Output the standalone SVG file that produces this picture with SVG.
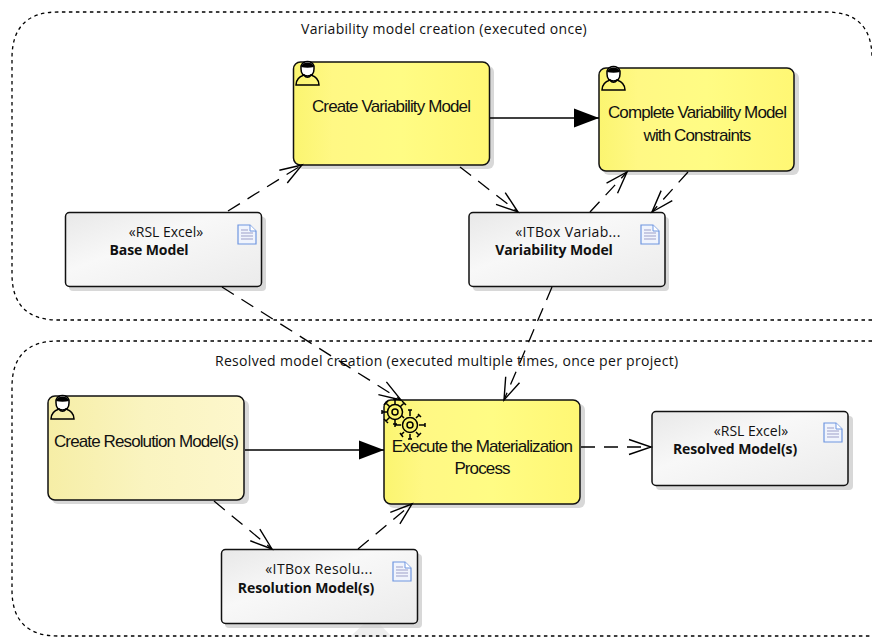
<svg xmlns="http://www.w3.org/2000/svg" width="872" height="637" viewBox="0 0 872 637">
<defs>
<linearGradient id="y" x1="0" x2="1" y1="0" y2="0"><stop offset="0" stop-color="#fbf570"/><stop offset="0.2" stop-color="#fff884"/><stop offset="0.55" stop-color="#fffc84"/><stop offset="1" stop-color="#fff774"/></linearGradient>
<linearGradient id="p" x1="0" x2="1" y1="0" y2="0"><stop offset="0" stop-color="#f6eea6"/><stop offset="0.5" stop-color="#faf4c0"/><stop offset="1" stop-color="#fdf7cc"/></linearGradient>
<linearGradient id="g" x1="0" x2="1" y1="0" y2="1"><stop offset="0" stop-color="#e8e8e8"/><stop offset="0.4" stop-color="#f8f8f8"/><stop offset="1" stop-color="#ebebeb"/></linearGradient>
<marker id="solid" markerUnits="userSpaceOnUse" markerWidth="28" markerHeight="24" refX="25" refY="11" orient="auto"><path d="M0 1.500 L25 11 L0 20.500 Z" fill="#000"/></marker>
<marker id="open" markerUnits="userSpaceOnUse" markerWidth="26" markerHeight="20" refX="23" refY="9" orient="auto"><path d="M1 1.500 L23 9 L1 16.500" fill="none" stroke="#000" stroke-width="1.400"/></marker>
<g id="actor"><path d="M-4 -9 A7 7 0 0 1 9 -9 L9 -6 C9 -1 6 1 2.500 1 C-1 1 -4 -1 -4 -6 Z" fill="#fff" stroke="#000" stroke-width="1.500"/><path d="M-4 -8 A7 7 0 0 1 9 -8 C5 -7 0 -7 -4 -8 Z" fill="#000"/><path d="M-1 0 C-7 2 -9 5 -9 10 L14 10 C14 5 12 2 6 0 C4 3 1 3 -1 0 Z" fill="none" stroke="#000" stroke-width="1.500"/></g>
<g id="doc"><path d="M0 0 H12 L18 6 V19 H0 Z" fill="#f0f4fd" stroke="#6f96e0" stroke-width="1.200"/><path d="M12 0 V6 H18" fill="#fff" stroke="#6f96e0"/><path d="M3 5 H10 M3 8 H15 M3 11 H15 M3 14 H15" stroke="#9d9fc8" stroke-width="1"/></g>
<g id="gear" fill="none" stroke="#000" stroke-width="1.500"><path d="M-8 -19 V-14 M-10 -19 H-6 M-8 2 V6 M-10 6 H-6 M-21 -6 H-16 M-21 -8 V-4 M-17 -15 L-13 -11 M-19 -13 L-15 -17 M1 -15 L-3 -11 M-1 -17 L3 -13 M-17 3 L-13 -1 M-19 1 L-15 5 M7 -8 V-2 M5 -8 H9 M7 16 V21 M5 21 H9 M-8 7 H-2 M-8 5 V9 M16 7 H22 M22 5 V9 M-2 -3 L1 0 M16 -3 L13 0 M15 -4 L18 -1 M-2 17 L1 14 M-3 15 L0 19 M16 17 L13 14 M14 19 L18 15"/><circle cx="-8" cy="-6" r="7.500" fill="#fbf570"/><circle cx="7" cy="7" r="7.500" fill="#fbf570"/><circle cx="7" cy="7" r="3"/><circle cx="-8" cy="-6" r="3"/></g>
</defs>
<style>
.b{fill:none;stroke:#000;stroke-width:1.300;stroke-dasharray:3.500 3.500}
.t{font-family:"Open Sans","Liberation Sans",sans-serif;font-size:14px;fill:#111;letter-spacing:.3px}
.n{font-family:"Liberation Sans",Arial,sans-serif;font-size:17px;fill:#111;text-anchor:middle;letter-spacing:-0.880px}
.s{font-family:"Open Sans","Liberation Sans",sans-serif;font-size:14px;fill:#111;text-anchor:middle;letter-spacing:.35px}
.r{letter-spacing:0}
.m{font-family:"Open Sans","Liberation Sans",sans-serif;font-size:14px;font-weight:700;fill:#111;text-anchor:middle;letter-spacing:-0.100px}
.box{stroke:#111;stroke-width:1.500}
.sh{fill:#c8c8c8;opacity:.7}
.sol{fill:none;stroke:#000;stroke-width:1.300}
.das{fill:none;stroke:#000;stroke-width:1.300;stroke-dasharray:14 9}
</style>
<path d="M350 637 L372 616 L392 637 Z" fill="#eeeeee"/>
<g id="boundaries">
<path class="b" d="M872 320 H58 Q12 320 12 274 V58 Q12 12 58 12 H826 Q872 12 872 58"/>
<path class="b" d="M872 341 H58 Q12 341 12 387 V590 Q12 636 58 636 H872"/>
</g>
<text class="t" x="301" y="34">Variability model creation (executed once)</text>
<text class="t" x="215" y="366">Resolved model creation (executed multiple times, once per project)</text>
<g id="create-variability-model">
<rect class="sh" x="297" y="66" width="197" height="103" rx="6"/>
<rect class="box" x="293.500" y="62" width="196" height="103" rx="7" fill="url(#y)"/>
<use href="#actor" x="305" y="75"/>
<text class="n" x="391" y="112">Create Variability Model</text>
</g>
<g id="complete-variability-model">
<rect class="sh" x="603" y="72" width="196" height="103" rx="6"/>
<rect class="box" x="599" y="68" width="195" height="103" rx="7" fill="url(#y)"/>
<use href="#actor" x="611" y="80"/>
<text class="n" x="697" y="118">Complete Variability Model</text>
<text class="n" x="697" y="141">with Constraints</text>
</g>
<g id="base-model">
<rect class="sh" x="69" y="217" width="197" height="74" rx="4"/>
<rect class="box" x="65.500" y="212.500" width="196" height="74" rx="4" fill="url(#g)"/>
<use href="#doc" x="238" y="225"/>
<text class="s r" x="166" y="237">«RSL Excel»</text>
<text class="m" x="149" y="255">Base Model</text>
</g>
<g id="variability-model">
<rect class="sh" x="473" y="217" width="196" height="74" rx="4"/>
<rect class="box" x="469" y="212.500" width="196" height="74" rx="4" fill="url(#g)"/>
<use href="#doc" x="641" y="225"/>
<text class="s" x="568" y="237">«ITBox Variab...</text>
<text class="m" x="554" y="255">Variability Model</text>
</g>
<g id="create-resolution-models">
<rect class="sh" x="52" y="400" width="197" height="104" rx="6"/>
<rect class="box" x="48" y="396" width="196" height="104" rx="7" fill="url(#p)"/>
<use href="#actor" x="60" y="409"/>
<text class="n" x="146" y="447">Create Resolution Model(s)</text>
</g>
<g id="execute-materialization">
<rect class="sh" x="388" y="404" width="197" height="104" rx="6"/>
<rect class="box" x="384" y="400" width="196" height="104" rx="7" fill="url(#y)"/>
<use href="#gear" x="403" y="418"/>
<text class="n" x="482" y="452">Execute the Materialization</text>
<text class="n" x="482" y="474">Process</text>
</g>
<g id="resolved-models">
<rect class="sh" x="656" y="416" width="197" height="74" rx="4"/>
<rect class="box" x="652" y="411.500" width="196" height="74" rx="4" fill="url(#g)"/>
<use href="#doc" x="824" y="423"/>
<text class="s r" x="751" y="436">«RSL Excel»</text>
<text class="m" x="735" y="454">Resolved Model(s)</text>
</g>
<g id="resolution-models">
<rect class="sh" x="225" y="554" width="197" height="74" rx="4"/>
<rect class="box" x="221.500" y="549.500" width="196" height="74" rx="4" fill="url(#g)"/>
<use href="#doc" x="393" y="562"/>
<text class="s" x="319" y="574">«ITBox Resolu...</text>
<text class="m" x="306" y="593">Resolution Model(s)</text>
</g>
<g id="connectors">
<path class="sol" d="M490 118 H599" marker-end="url(#solid)"/>
<path class="sol" d="M245 450 H384" marker-end="url(#solid)"/>
<path class="das" d="M228 211 L302 165" marker-end="url(#open)"/>
<path class="das" d="M460 167 L518 212" marker-end="url(#open)"/>
<path class="das" d="M590 212 L627 172" marker-end="url(#open)"/>
<path class="das" d="M688 172 L652 212" marker-end="url(#open)"/>
<path class="das" d="M222 287 L401 400" marker-end="url(#open)"/>
<path class="das" d="M552 287 L504 400" marker-end="url(#open)"/>
<path class="das" d="M581 447 H651" marker-end="url(#open)"/>
<path class="das" d="M214 501 L272 549" marker-end="url(#open)"/>
<path class="das" d="M358 549 L412 504" marker-end="url(#open)"/>
</g>
</svg>
